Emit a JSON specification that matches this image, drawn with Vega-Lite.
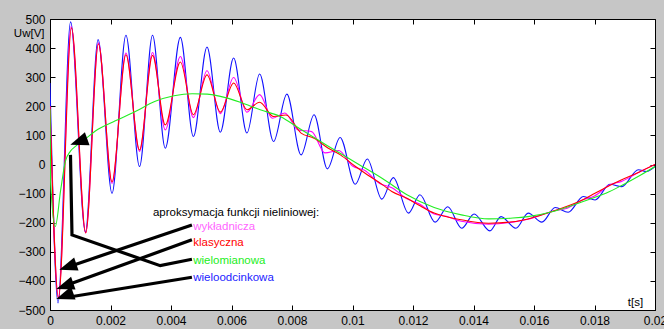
{
  "$schema": "https://vega.github.io/schema/vega-lite/v6.json",
  "width": 605,
  "height": 291,
  "autosize": {"type": "none"},
  "padding": {"left": 50, "top": 19, "right": 9, "bottom": 19},
  "background": "#c6c6c6",
  "config": {
    "view": {"fill": "white", "stroke": "black", "strokeWidth": 1},
    "font": "Liberation Sans",
    "axis": {
      "grid": false,
      "domainColor": "black",
      "tickColor": "black",
      "labelColor": "black",
      "labelFont": "Liberation Sans",
      "labelFontSize": 12,
      "tickSize": -5,
      "labelPadding": 10,
      "titleFont": "Liberation Sans",
      "titleFontSize": 11.5,
      "titleFontWeight": "normal",
      "titleColor": "black"
    }
  },
  "datasets": {
    "wieloodcinkowa": [
      {"t": 0, "v": 280}, {"t": 0.000265, "v": -476}, {"t": 0.00068, "v": 490}, {"t": 0.00117, "v": -231},
      {"t": 0.00159, "v": 429}, {"t": 0.00205, "v": -99}, {"t": 0.00251, "v": 444}, {"t": 0.00296, "v": -7},
      {"t": 0.00339, "v": 444}, {"t": 0.00381, "v": 56}, {"t": 0.00431, "v": 437}, {"t": 0.00474, "v": 96},
      {"t": 0.00519, "v": 404}, {"t": 0.00563, "v": 111}, {"t": 0.00607, "v": 366}, {"t": 0.00651, "v": 108},
      {"t": 0.00693, "v": 311}, {"t": 0.00739, "v": 79}, {"t": 0.00783, "v": 242}, {"t": 0.0083, "v": 33},
      {"t": 0.00873, "v": 171}, {"t": 0.00917, "v": -15}, {"t": 0.00959, "v": 93}, {"t": 0.01009, "v": -68},
      {"t": 0.01049, "v": 19}, {"t": 0.01097, "v": -119}, {"t": 0.01135, "v": -45}, {"t": 0.01185, "v": -167},
      {"t": 0.01223, "v": -104}, {"t": 0.01273, "v": -198}, {"t": 0.01315, "v": -145}, {"t": 0.01361, "v": -219},
      {"t": 0.01402, "v": -170}, {"t": 0.01454, "v": -228}, {"t": 0.01491, "v": -179}, {"t": 0.0154, "v": -219},
      {"t": 0.01581, "v": -167}, {"t": 0.01626, "v": -198}, {"t": 0.0167, "v": -148}, {"t": 0.01713, "v": -164},
      {"t": 0.01763, "v": -110}, {"t": 0.01802, "v": -122}, {"t": 0.01851, "v": -68}, {"t": 0.0189, "v": -76},
      {"t": 0.01945, "v": -18}, {"t": 0.01972, "v": -24}, {"t": 0.02, "v": -7}
    ],
    "wykladnicza": [
      {"t": 0, "v": 200}, {"t": 0.00028, "v": -455}, {"t": 0.0007, "v": 475}, {"t": 0.00118, "v": -235},
      {"t": 0.0016, "v": 418}, {"t": 0.00205, "v": -65}, {"t": 0.00251, "v": 383}, {"t": 0.00296, "v": 45},
      {"t": 0.00339, "v": 385}, {"t": 0.00381, "v": 119}, {"t": 0.00431, "v": 371}, {"t": 0.00474, "v": 161},
      {"t": 0.00519, "v": 322}, {"t": 0.00563, "v": 175}, {"t": 0.00607, "v": 299}, {"t": 0.00651, "v": 180},
      {"t": 0.00693, "v": 240}, {"t": 0.00735, "v": 159}, {"t": 0.00776, "v": 177}, {"t": 0.0082, "v": 119},
      {"t": 0.00865, "v": 113}, {"t": 0.00909, "v": 40}, {"t": 0.00954, "v": 48}, {"t": 0.01, "v": -5},
      {"t": 0.0104, "v": -20}, {"t": 0.0109, "v": -65}, {"t": 0.0113, "v": -80}, {"t": 0.0118, "v": -118},
      {"t": 0.0122, "v": -135}, {"t": 0.0127, "v": -170}, {"t": 0.0131, "v": -178}, {"t": 0.0136, "v": -195},
      {"t": 0.0145, "v": -205}, {"t": 0.0153, "v": -198}, {"t": 0.0158, "v": -188}, {"t": 0.0167, "v": -158},
      {"t": 0.0171, "v": -150}, {"t": 0.0176, "v": -122}, {"t": 0.018, "v": -108}, {"t": 0.0185, "v": -70},
      {"t": 0.0189, "v": -58}, {"t": 0.0195, "v": -25}, {"t": 0.02, "v": 0}
    ],
    "klasyczna": [
      {"t": 0, "v": 200}, {"t": 0.00028, "v": -460}, {"t": 0.00071, "v": 470}, {"t": 0.00118, "v": -235},
      {"t": 0.0016, "v": 414}, {"t": 0.00205, "v": -59}, {"t": 0.00251, "v": 377}, {"t": 0.00296, "v": 50},
      {"t": 0.00339, "v": 375}, {"t": 0.00381, "v": 136}, {"t": 0.00431, "v": 352}, {"t": 0.00474, "v": 171},
      {"t": 0.00519, "v": 308}, {"t": 0.00563, "v": 180}, {"t": 0.00607, "v": 280}, {"t": 0.00651, "v": 188},
      {"t": 0.00693, "v": 214}, {"t": 0.00739, "v": 165}, {"t": 0.0078, "v": 170}, {"t": 0.0083, "v": 108},
      {"t": 0.00873, "v": 90}, {"t": 0.0092, "v": 56}, {"t": 0.0096, "v": 33}, {"t": 0.0101, "v": -7},
      {"t": 0.0105, "v": -36}, {"t": 0.011, "v": -70}, {"t": 0.0113, "v": -93}, {"t": 0.0118, "v": -116},
      {"t": 0.0122, "v": -140}, {"t": 0.0127, "v": -167}, {"t": 0.0136, "v": -190}, {"t": 0.0145, "v": -202},
      {"t": 0.0153, "v": -197}, {"t": 0.0158, "v": -187}, {"t": 0.0167, "v": -158}, {"t": 0.0176, "v": -122},
      {"t": 0.018, "v": -100}, {"t": 0.0185, "v": -72}, {"t": 0.0189, "v": -52}, {"t": 0.0195, "v": -25},
      {"t": 0.02, "v": 0}
    ],
    "wielomianowa": [
      {"t": 0, "v": 190}, {"t": 0.00002, "v": -60}, {"t": 0.000175, "v": -213}, {"t": 0.00035, "v": -90},
      {"t": 0.000505, "v": 10}, {"t": 0.00067, "v": 45}, {"t": 0.00084, "v": 62}, {"t": 0.00117, "v": 88},
      {"t": 0.0015, "v": 115}, {"t": 0.00216, "v": 150}, {"t": 0.00282, "v": 182}, {"t": 0.00348, "v": 217},
      {"t": 0.0041, "v": 236}, {"t": 0.0047, "v": 243}, {"t": 0.0052, "v": 242}, {"t": 0.00563, "v": 234},
      {"t": 0.00629, "v": 214}, {"t": 0.00695, "v": 188}, {"t": 0.00761, "v": 165}, {"t": 0.0083, "v": 120},
      {"t": 0.0092, "v": 63}, {"t": 0.0101, "v": 7}, {"t": 0.011, "v": -49}, {"t": 0.0118, "v": -104},
      {"t": 0.0127, "v": -148}, {"t": 0.0136, "v": -173}, {"t": 0.0145, "v": -187}, {"t": 0.0153, "v": -184},
      {"t": 0.0158, "v": -179}, {"t": 0.0167, "v": -160}, {"t": 0.0176, "v": -128}, {"t": 0.0185, "v": -93},
      {"t": 0.0189, "v": -72}, {"t": 0.0195, "v": -38}, {"t": 0.02, "v": -7}
    ],
    "arrows": [
      {"arrow": "A1", "t": 0.004692, "v": -207.6}, {"arrow": "A1", "t": 0.000621, "v": -351},
      {"arrow": "A2", "t": 0.004692, "v": -259}, {"arrow": "A2", "t": 0.000519, "v": -416},
      {"arrow": "A3", "t": 0.004692, "v": -387.5}, {"arrow": "A3", "t": 0.000535, "v": -457},
      {"arrow": "A4", "t": 0.004692, "v": -325.6}, {"arrow": "A4", "t": 0.003644, "v": -347.6},
      {"arrow": "A4", "t": 0.000727, "v": -242}, {"arrow": "A4", "t": 0.000677, "v": 33}
    ],
    "heads": [
      {"arrow": "A1", "t": 0.000307, "v": -362},
      {"arrow": "A2", "t": 0.000208, "v": -428},
      {"arrow": "A3", "t": 0.000208, "v": -462},
      {"arrow": "A4", "t": 0.000671, "v": 67.6}
    ],
    "header": [
      {"label": "aproksymacja funkcji nieliniowej:", "t": 0.003403, "v": -167}
    ],
    "labels": [
      {"label": "wykładnicza", "t": 0.004735, "v": -213.5},
      {"label": "klasyczna", "t": 0.004735, "v": -270.6},
      {"label": "wielomianowa", "t": 0.004735, "v": -331.4},
      {"label": "wieloodcinkowa", "t": 0.004735, "v": -391}
    ]
  },
  "resolve": {"axis": {"x": "independent", "y": "independent"}},
  "layer": [
    {
      "data": {"name": "wieloodcinkowa"},
      "mark": {"type": "line", "color": "#1010ff", "strokeWidth": 1.1, "interpolate": "monotone", "clip": true},
      "encoding": {
        "x": {"field": "t", "type": "quantitative", "scale": {"domain": [0, 0.02], "nice": false, "zero": false},
          "axis": {"orient": "bottom", "values": [0, 0.002, 0.004, 0.006, 0.008, 0.01, 0.012, 0.014, 0.016, 0.018, 0.02],
            "format": "~g", "labelFlush": false, "labelOverlap": false,
            "title": "t[s]", "titleX": 585, "titleY": -8, "titleAlign": "center", "titleBaseline": "middle", "titleAngle": 0}},
        "y": {"field": "v", "type": "quantitative", "scale": {"domain": [-500, 500], "nice": false, "zero": false},
          "axis": {"orient": "left", "values": [-500, -400, -300, -200, -100, 0, 100, 200, 300, 400, 500],
            "labelFlush": false, "labelOverlap": false,
            "title": "Uw[V]", "titleX": -6, "titleY": 14, "titleAlign": "right", "titleBaseline": "middle", "titleAngle": 0}}
      }
    },
    {
      "data": {"name": "wykladnicza"},
      "mark": {"type": "line", "color": "#ff00ff", "strokeWidth": 1.1, "interpolate": "monotone", "clip": true},
      "encoding": {
        "x": {"field": "t", "type": "quantitative",
          "axis": {"orient": "top", "values": [0, 0.002, 0.004, 0.006, 0.008, 0.01, 0.012, 0.014, 0.016, 0.018, 0.02],
            "labels": false, "domain": false, "title": null}},
        "y": {"field": "v", "type": "quantitative",
          "axis": {"orient": "right", "values": [-500, -400, -300, -200, -100, 0, 100, 200, 300, 400, 500],
            "labels": false, "domain": false, "title": null}}
      }
    },
    {
      "data": {"name": "klasyczna"},
      "mark": {"type": "line", "color": "#ff0000", "strokeWidth": 1.1, "interpolate": "monotone", "clip": true},
      "encoding": {
        "x": {"field": "t", "type": "quantitative", "axis": null},
        "y": {"field": "v", "type": "quantitative", "axis": null}
      }
    },
    {
      "data": {"name": "wielomianowa"},
      "mark": {"type": "line", "color": "#22ee22", "strokeWidth": 1.1, "interpolate": "monotone", "clip": true},
      "encoding": {
        "x": {"field": "t", "type": "quantitative", "axis": null},
        "y": {"field": "v", "type": "quantitative", "axis": null}
      }
    },
    {
      "data": {"name": "arrows"},
      "mark": {"type": "line", "color": "black", "strokeWidth": 3.2, "interpolate": "linear", "strokeCap": "butt", "strokeJoin": "miter"},
      "encoding": {
        "x": {"field": "t", "type": "quantitative", "axis": null},
        "y": {"field": "v", "type": "quantitative", "axis": null},
        "detail": {"field": "arrow", "type": "nominal"}
      }
    },
    {
      "data": {"name": "heads"},
      "mark": {"type": "point", "shape": "M0,0L0.38,1L-0.38,1Z", "filled": true, "color": "black", "opacity": 1, "size": 1296, "strokeWidth": 0},
      "encoding": {
        "x": {"field": "t", "type": "quantitative", "axis": null},
        "y": {"field": "v", "type": "quantitative", "axis": null},
        "angle": {"field": "arrow", "type": "nominal", "scale": {"domain": ["A1", "A2", "A3", "A4"], "range": [251.3, 250.1, 260.9, 358.9]}, "legend": null}
      }
    },
    {
      "data": {"name": "header"},
      "mark": {"type": "text", "align": "left", "baseline": "middle", "fontSize": 11.5, "font": "Liberation Sans", "color": "black"},
      "encoding": {
        "x": {"field": "t", "type": "quantitative", "axis": null},
        "y": {"field": "v", "type": "quantitative", "axis": null},
        "text": {"field": "label"}
      }
    },
    {
      "data": {"name": "labels"},
      "mark": {"type": "text", "align": "left", "baseline": "middle", "fontSize": 11.5, "font": "Liberation Sans"},
      "encoding": {
        "x": {"field": "t", "type": "quantitative", "axis": null},
        "y": {"field": "v", "type": "quantitative", "axis": null},
        "text": {"field": "label"},
        "color": {"field": "label", "type": "nominal", "legend": null,
          "scale": {"domain": ["wykładnicza", "klasyczna", "wielomianowa", "wieloodcinkowa"], "range": ["#ff66ff", "#ff0000", "#22ee22", "#2222ff"]}}
      }
    }
  ]
}
